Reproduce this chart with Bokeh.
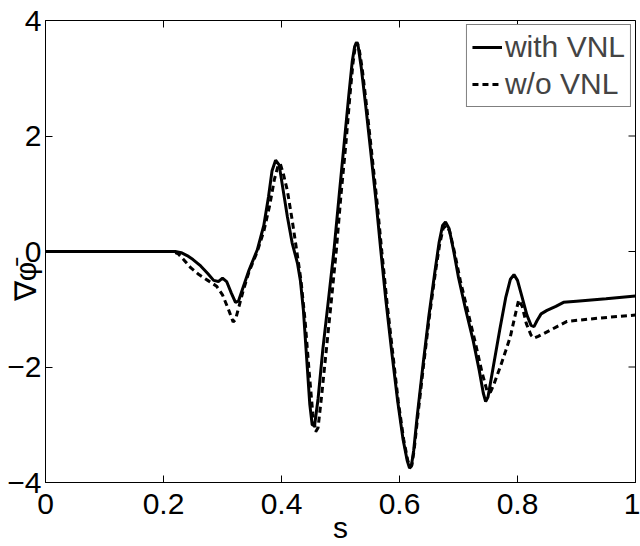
from bokeh.plotting import figure
from bokeh.models import Legend, LegendItem, FixedTicker
from bokeh.embed import file_html
from bokeh.resources import INLINE

# with VNL (solid)
s_with = [0, 0.22, 0.23, 0.24, 0.25, 0.263, 0.275, 0.285, 0.293, 0.300, 0.307, 0.315, 0.322, 0.327,
          0.335, 0.345, 0.359, 0.370, 0.378, 0.384, 0.390, 0.396, 0.403, 0.410, 0.418, 0.427, 0.432,
          0.437, 0.443, 0.448, 0.452, 0.456, 0.462, 0.470, 0.480, 0.489, 0.498, 0.506, 0.514, 0.520,
          0.524, 0.527, 0.530, 0.535, 0.543, 0.551, 0.560, 0.568, 0.577, 0.587, 0.597, 0.606, 0.613,
          0.617, 0.620, 0.624, 0.630, 0.640, 0.650, 0.660, 0.667, 0.673, 0.678, 0.684, 0.692, 0.700,
          0.712, 0.725, 0.735, 0.742, 0.746, 0.750, 0.758, 0.770, 0.780, 0.788, 0.794, 0.800, 0.808,
          0.816, 0.823, 0.828, 0.833, 0.840, 0.850, 0.865, 0.878, 0.90, 0.95, 1.0]
g_with = [0, 0, -0.02, -0.07, -0.14, -0.25, -0.38, -0.50, -0.52, -0.46, -0.52, -0.72, -0.88, -0.86,
          -0.62, -0.32, 0.03, 0.45, 0.95, 1.40, 1.58, 1.50, 1.05, 0.60, 0.15, -0.20, -0.50,
          -1.00, -1.90, -2.65, -3.00, -3.02, -2.55, -1.70, -0.80, 0.03, 1.0, 1.85, 2.7, 3.3,
          3.55, 3.62, 3.55, 3.2, 2.5, 1.75, 0.9, 0.05, -0.85, -1.75, -2.6, -3.25, -3.62,
          -3.75, -3.72, -3.45, -2.85, -1.95, -1.1, -0.35, 0.15, 0.45, 0.51, 0.4, 0.0, -0.45,
          -1.0, -1.55, -2.05, -2.45, -2.60, -2.52, -2.05, -1.35, -0.80, -0.48, -0.40, -0.50, -0.80,
          -1.10, -1.28, -1.30, -1.20, -1.08, -1.02, -0.95, -0.88, -0.86, -0.82, -0.77]

# w/o VNL (dashed)
s_wo = [0, 0.215, 0.225, 0.235, 0.246, 0.26, 0.275, 0.290, 0.300, 0.310, 0.318, 0.322, 0.328, 0.335,
        0.345, 0.359, 0.370, 0.380, 0.388, 0.394, 0.398, 0.403, 0.410, 0.418, 0.426, 0.433, 0.440,
        0.447, 0.453, 0.458, 0.462, 0.468, 0.476, 0.485, 0.493, 0.501, 0.509, 0.516, 0.521, 0.525,
        0.528, 0.531, 0.537, 0.545, 0.553, 0.562, 0.570, 0.579, 0.589, 0.598, 0.607, 0.614, 0.618,
        0.621, 0.625, 0.631, 0.641, 0.651, 0.661, 0.668, 0.674, 0.679, 0.685, 0.694, 0.703, 0.716,
        0.729, 0.740, 0.748, 0.754, 0.760, 0.771, 0.780, 0.788, 0.795, 0.802, 0.808, 0.815, 0.823,
        0.828, 0.835, 0.845, 0.867, 0.884, 0.941, 1.0]
g_wo = [0, 0, -0.04, -0.15, -0.28, -0.40, -0.50, -0.60, -0.75, -1.00, -1.22, -1.18, -0.95, -0.68,
        -0.35, 0.0, 0.35, 0.80, 1.25, 1.48, 1.52, 1.35, 1.05, 0.55, 0.0, -0.50, -1.20,
        -2.10, -2.80, -3.12, -3.05, -2.50, -1.70, -0.80, 0.03, 1.0, 1.85, 2.7, 3.25, 3.55,
        3.62, 3.55, 3.15, 2.45, 1.7, 0.85, 0.0, -0.9, -1.8, -2.6, -3.25, -3.62, -3.73,
        -3.70, -3.42, -2.85, -1.95, -1.1, -0.35, 0.12, 0.40, 0.45, 0.35, -0.05, -0.50, -1.05,
        -1.60, -2.10, -2.40, -2.44, -2.30, -1.99, -1.72, -1.47, -1.15, -0.84, -0.95, -1.25, -1.45,
        -1.50, -1.47, -1.42, -1.30, -1.21, -1.15, -1.10]

x_ticks = [0, 0.2, 0.4, 0.6, 0.8, 1.0]
y_ticks = [-4, -2, 0, 2, 4]
x_tick_labels = {0: "0", 0.2: "0.2", 0.4: "0.4", 0.6: "0.6", 0.8: "0.8", 1.0: "1"}
y_tick_labels = {-4: "\u22124", -2: "\u22122", 0: "0", 2: "2", 4: "4"}

FONT = "Liberation Sans"
FS = "30px"
X_MIN, X_MAX, Y_MIN, Y_MAX = 0, 1, -4, 4

p = figure(width=640, height=546, output_backend="svg", toolbar_location=None,
           x_range=(X_MIN, X_MAX), y_range=(Y_MIN, Y_MAX),
           min_border_left=45, min_border_right=5, min_border_top=20, min_border_bottom=63)
p.background_fill_color = "white"
p.border_fill_color = "white"
p.outline_line_color = "black"
p.outline_line_width = 1
p.xgrid.visible = False
p.ygrid.visible = False

l1 = p.line(s_with, g_with, line_color="black", line_width=3)
l2 = p.line(s_wo, g_wo, line_color="black", line_width=3, line_dash="6 4")

for ax in (p.xaxis[0], p.yaxis[0]):
    ax.major_tick_in = 7
    ax.major_tick_out = 0
    ax.minor_tick_in = 0
    ax.minor_tick_out = 0
    ax.axis_line_color = "black"
    ax.major_tick_line_color = "black"
    ax.major_label_text_font = FONT
    ax.major_label_text_font_size = FS
    ax.major_label_text_color = "black"
    ax.axis_label_text_font = FONT
    ax.axis_label_text_font_size = FS
    ax.axis_label_text_font_style = "normal"
    ax.axis_label_text_color = "black"

p.xaxis.ticker = FixedTicker(ticks=x_ticks)
p.yaxis.ticker = FixedTicker(ticks=y_ticks)
p.xaxis.major_label_overrides = x_tick_labels
p.yaxis.major_label_overrides = y_tick_labels
p.xaxis.axis_label = "s"
p.xaxis.major_label_standoff = 11
p.xaxis.axis_label_standoff = -6
p.yaxis.major_label_standoff = 4
# trailing em spaces push the rotated label below the "0" tick label, as in the reference
p.yaxis.axis_label = "\u2207\u03c6\u0304\u2003\u2003"
p.yaxis.axis_label_standoff = -38

# inward ticks on the top and right frame edges (box style)
p.scatter(x=x_ticks, y=[Y_MAX] * len(x_ticks), marker="dash", angle=1.5708, size=14,
          line_color="black", line_width=1)
p.scatter(x=[X_MAX] * len(y_ticks), y=y_ticks, marker="dash", angle=0, size=14,
          line_color="black", line_width=1)

legend = Legend(items=[LegendItem(label="with VNL", renderers=[l1]),
                       LegendItem(label="w/o VNL", renderers=[l2])],
                location="top_right")
legend.label_text_font = FONT
legend.label_text_font_size = FS
legend.glyph_width = 30
legend.glyph_height = 30
legend.label_height = 30
legend.spacing = 3
legend.padding = 5
legend.margin = 4
legend.label_standoff = 3
legend.border_line_color = "black"
legend.border_line_width = 1
legend.background_fill_color = "white"
legend.background_fill_alpha = 1
p.add_layout(legend)

open("out.html", "w").write(file_html(p, INLINE))
